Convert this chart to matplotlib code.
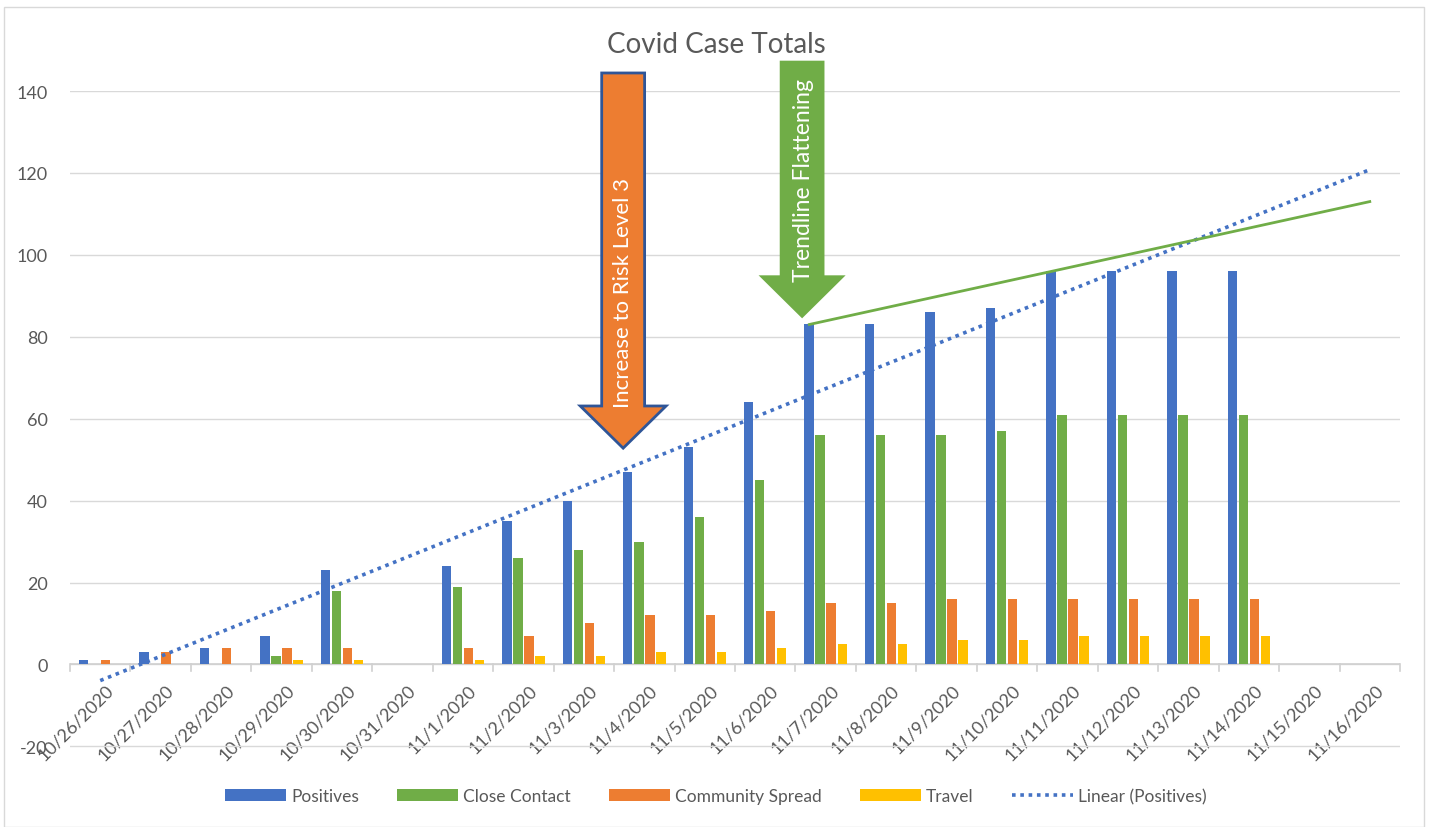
import numpy as np
import matplotlib
matplotlib.use("Agg")
import matplotlib.pyplot as plt
import matplotlib.transforms as mtrans
from matplotlib.patches import FancyArrow, Patch, Rectangle
from matplotlib.lines import Line2D

plt.rcParams['font.family'] = ['Lato', 'DejaVu Sans']

dates = ['10/26/2020', '10/27/2020', '10/28/2020', '10/29/2020', '10/30/2020',
         '10/31/2020', '11/1/2020', '11/2/2020', '11/3/2020', '11/4/2020',
         '11/5/2020', '11/6/2020', '11/7/2020', '11/8/2020', '11/9/2020',
         '11/10/2020', '11/11/2020', '11/12/2020', '11/13/2020', '11/14/2020',
         '11/15/2020', '11/16/2020']
nan = np.nan
positives = [1, 3, 4, 7, 23, nan, 24, 35, 40, 47, 53, 64, 83, 83, 86, 87, 96, 96, 96, 96, nan, nan]
close_contact = [0, 0, 0, 2, 18, nan, 19, 26, 28, 30, 36, 45, 56, 56, 56, 57, 61, 61, 61, 61, nan, nan]
community = [1, 3, 4, 4, 4, nan, 4, 7, 10, 12, 12, 13, 15, 15, 16, 16, 16, 16, 16, 16, nan, nan]
travel = [0, 0, 0, 1, 1, nan, 1, 2, 2, 3, 3, 4, 5, 5, 6, 6, 7, 7, 7, 7, nan, nan]

# hand drawn "flattening" line: from top of the 11/7 bar to the right edge
flat_x = [11.73, 21]
flat_y = [83, 113]

blue = '#4472C4'
green = '#70AD47'
orange = '#ED7D31'
yellow = '#FFC000'
grey = '#595959'

fig = plt.figure(figsize=(14.32, 8.28), dpi=100)
ax = fig.add_axes([70 / 1432, 1 - 749 / 828, 1330 / 1432, 657 / 828])

x = np.arange(len(dates))
step = 0.182
w = 0.155
series = [(positives, blue, 'Positives'), (close_contact, green, 'Close Contact'),
          (community, orange, 'Community Spread'), (travel, yellow, 'Travel')]
for k, (vals, col, lab) in enumerate(series):
    ax.bar(x + (k - 1.5) * step, vals, width=w, color=col, zorder=3)

# linear trendline on positives (blanks skipped like Excel)
p = np.array(positives, dtype=float)
ok = ~np.isnan(p)
m, b = np.polyfit(x[ok], p[ok], 1)
ax.plot(x, m * x + b, color=blue, lw=2.6, ls=(0, (1, 1.3)), zorder=4)

ax.plot(flat_x, flat_y, color=green, lw=2, zorder=4)

ax.set_xlim(-0.5, len(dates) - 0.5)
ax.set_ylim(-20.4, 140)
ax.set_yticks(range(-20, 141, 20))
ax.set_yticklabels([str(v) for v in range(-20, 141, 20)], fontsize=13, color=grey)
ax.tick_params(axis='y', length=0, pad=16)
ax.yaxis.grid(True, color='#D9D9D9', lw=1, zorder=0)
for s in ax.spines.values():
    s.set_visible(False)
ax.axhline(0, color='#D0D0D0', lw=1.2, zorder=2)

ax.set_xticks(x)
ax.set_xticklabels(dates, rotation=45, ha='right', rotation_mode='anchor',
                   fontsize=13, color=grey)
ax.tick_params(axis='x', length=0, pad=4)
# tick marks between categories on the zero line
for t in np.arange(-0.5, len(dates), 1):
    ax.plot([t, t], [0, -1.7], color='#D0D0D0', lw=1.2, clip_on=False, zorder=2)
# x labels hang just under the zero line
for lbl in ax.get_xticklabels():
    lbl.set_transform(ax.transData + mtrans.ScaledTranslation(5 / 100, -17 / 100, fig.dpi_scale_trans))
    lbl.set_position((lbl.get_position()[0], 0))

# arrows
a1 = FancyArrow(8.65, 144.4, 0, -91.6, width=0.71, head_width=1.42, head_length=10.3,
                length_includes_head=True, facecolor=orange, edgecolor='#2F5597',
                lw=2, clip_on=False, zorder=5)
ax.add_patch(a1)
ax.text(8.65, 91, 'Increase to Risk Level 3', rotation=90, color='white',
        fontsize=16, ha='center', va='center', zorder=6)
a2 = FancyArrow(11.61, 147.4, 0, -62.9, width=0.74, head_width=1.44, head_length=10.5,
                length_includes_head=True, facecolor=green, edgecolor='none',
                clip_on=False, zorder=5)
ax.add_patch(a2)
ax.text(11.64, 118.5, 'Trendline Flattening', rotation=90, color='white',
        fontsize=16.5, ha='center', va='center', zorder=6)

fig.text(0.5, 1 - 45 / 828, 'Covid Case Totals', ha='center', va='center',
         fontsize=20, color=grey)

handles = [Patch(facecolor=c, label=l) for _, c, l in series]
handles.append(Line2D([], [], color=blue, lw=2.6, ls=(0, (1, 1.3)), label='Linear (Positives)'))
fig.legend(handles=handles, loc='center', bbox_to_anchor=(0.5, 1 - 797 / 828), ncol=5,
           frameon=False, fontsize=12.5, handlelength=3.5, handleheight=0.7,
           handletextpad=0.3, columnspacing=2.2, labelcolor=grey)

fig.patches.append(Rectangle((4 / 1432, 0), 1420 / 1432, 1 - 8 / 828, transform=fig.transFigure,
                             fill=False, edgecolor='#D9D9D9', lw=1))

fig.savefig('out.png', dpi=100, facecolor='white')
